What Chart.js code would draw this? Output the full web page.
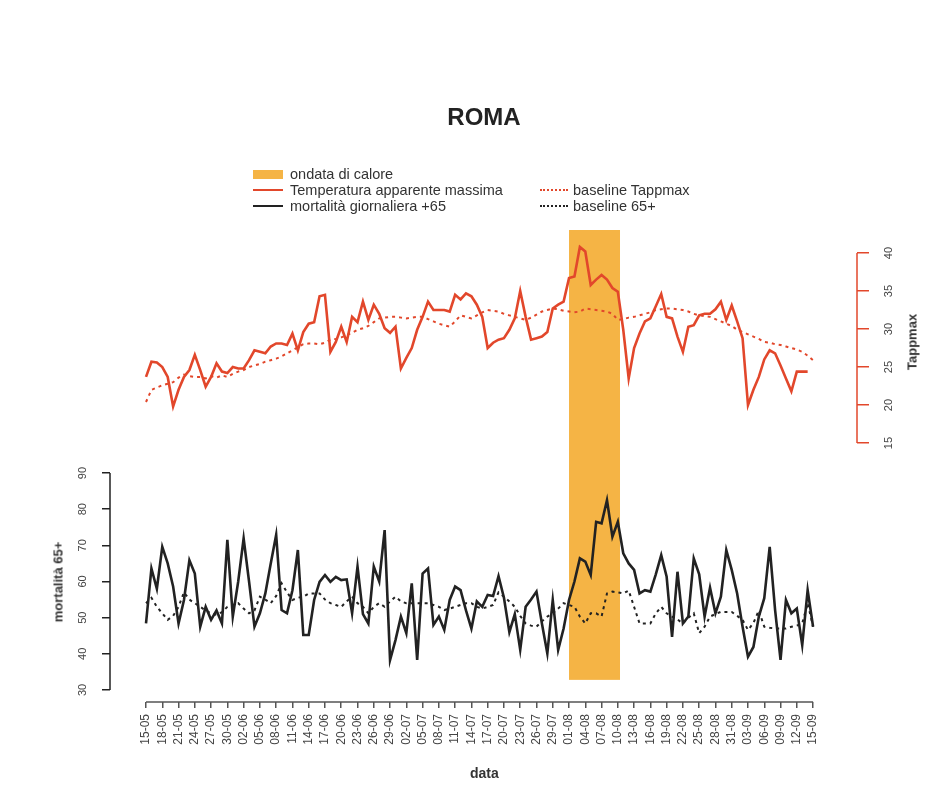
<!DOCTYPE html>
<html>
<head>
<meta charset="utf-8">
<script src="https://cdn.jsdelivr.net/npm/chart.js@4.4.0/dist/chart.umd.min.js"></script>
<style>
  html, body { margin:0; padding:0; background:#fff; }
  #wrap { position:relative; width:927px; height:803px; font-family:"Liberation Sans", Arial, sans-serif; }
  canvas { position:absolute; left:0; top:0; }
  .t { position:absolute; white-space:nowrap; color:#333; }
  #title { left:384px; width:200px; top:103px; text-align:center; font-weight:bold; font-size:24px; color:#222; }
  .lg { font-size:14.5px; line-height:16px; }
  .sw { position:absolute; }
  .rot { position:absolute; transform-origin:center center; transform:translate(-50%,-50%) rotate(-90deg); font-weight:bold; font-size:13px; color:#333; white-space:nowrap; }
</style>
</head>
<body>
<div id="wrap">
  <canvas id="c" width="927" height="803"></canvas>
  <div id="title" class="t">ROMA</div>

  <div class="sw" style="left:253px; top:170px; width:30px; height:9px; background:#f5b445;"></div>
  <div class="t lg" style="left:290px; top:166px;">ondata di calore</div>

  <div class="sw" style="left:253px; top:189px; width:30px; height:0; border-top:2.5px solid #e2472b;"></div>
  <div class="t lg" style="left:290px; top:182px;">Temperatura apparente massima</div>
  <div class="sw" style="left:540px; top:189px; width:28px; height:0; border-top:2.5px dotted #e2472b;"></div>
  <div class="t lg" style="left:573px; top:182px;">baseline Tappmax</div>

  <div class="sw" style="left:253px; top:205px; width:30px; height:0; border-top:2.5px solid #222;"></div>
  <div class="t lg" style="left:290px; top:198px;">mortalità giornaliera +65</div>
  <div class="sw" style="left:540px; top:205px; width:28px; height:0; border-top:2.5px dotted #222;"></div>
  <div class="t lg" style="left:573px; top:198px;">baseline 65+</div>

  <div class="rot" style="left:58px; top:582px;">mortalità 65+</div>
  <div class="rot" style="left:912px; top:342px;">Tappmax</div>
  <div class="t" style="left:470px; top:765px; font-weight:bold; font-size:14px;">data</div>
</div>
<script>
// ---- data (daily, 15 May .. 15 Sep) ----
const dateTicks = ["15-05","18-05","21-05","24-05","27-05","30-05","02-06","05-06","08-06","11-06","14-06","17-06","20-06","23-06","26-06","29-06","02-07","05-07","08-07","11-07","14-07","17-07","20-07","23-07","26-07","29-07","01-08","04-08","07-08","10-08","13-08","16-08","19-08","22-08","25-08","28-08","31-08","03-09","06-09","09-09","12-09","15-09"];
const tappmax = [23.7,25.7,25.6,25.0,23.7,19.8,22.0,23.7,24.6,26.6,24.6,22.4,23.7,25.5,24.4,24.2,25.0,24.8,24.8,25.9,
  27.2,27.0,26.8,27.7,28.1,28.1,27.9,29.4,27.2,29.6,30.7,30.9,34.3,34.5,27.0,28.3,30.3,28.3,31.6,30.9,
  33.6,31.2,33.2,32.0,30.1,29.5,30.3,24.8,26.2,27.5,29.9,31.6,33.6,32.5,32.5,32.5,32.3,34.5,33.9,34.7,
  34.3,33.2,31.6,27.5,28.2,28.6,28.8,29.9,31.4,35.0,31.6,28.6,28.8,29.0,29.6,32.7,33.2,33.6,36.7,36.9,
  40.8,40.2,35.8,36.5,37.1,36.5,35.4,34.9,29.9,23.5,27.5,29.4,31.0,31.4,33.0,34.6,31.6,31.4,29.0,27.0,
  30.3,30.5,31.8,32.0,32.0,32.6,33.6,31.2,33.1,31.0,28.8,20.0,22.0,23.7,26.0,27.2,26.8,25.2,23.5,21.8,
  24.4,24.4,24.4,null];
const tappmaxBase = [20.4,22.0,22.3,22.6,22.8,23.0,23.6,24.0,23.8,23.7,23.7,23.5,23.8,23.6,23.9,23.7,24.1,24.4,24.6,25.0,
  25.2,25.4,25.7,25.9,26.1,26.4,26.8,27.2,27.6,28.0,28.1,28.1,28.0,28.2,28.6,28.7,28.9,29.2,29.5,29.9,
  30.1,30.4,30.9,31.4,31.5,31.6,31.6,31.5,31.4,31.5,31.6,31.6,31.3,31.0,30.7,30.5,30.3,31.0,31.8,31.6,
  31.4,31.8,32.2,32.5,32.4,32.3,32.0,31.8,31.6,31.4,31.2,31.5,31.9,32.3,32.5,32.7,32.6,32.4,32.3,32.2,
  32.3,32.7,32.6,32.5,32.4,32.3,32.0,31.2,31.3,31.5,31.6,31.8,32.0,32.2,32.5,32.6,32.7,32.7,32.6,32.5,
  32.3,32.0,31.8,31.7,31.6,31.3,31.0,30.7,30.4,29.9,29.6,29.3,29.0,28.7,28.3,28.2,28.0,27.9,27.7,27.5,
  27.3,27.0,26.5,25.9];
const mortality = [48.4,63.6,58.0,69.6,65.0,58.6,48.4,54.9,65.9,62.2,47.5,53.0,49.4,52.0,48.4,71.5,50.3,60.0,71.9,60.0,
  47.5,51.2,56.7,65.0,72.9,52.1,51.2,57.6,68.7,45.2,45.2,54.9,59.9,61.8,59.9,61.3,60.4,60.6,51.2,64.1,
  51.0,48.4,64.1,60.0,74.2,38.3,43.8,50.3,45.7,59.5,38.3,62.2,63.6,48.0,50.3,46.6,54.9,58.6,57.6,52.0,
  47.0,54.5,53.0,56.3,56.0,61.5,55.5,46.0,51.0,41.1,53.0,55.0,57.2,48.4,40.1,54.9,41.1,47.0,54.9,60.0,
  66.4,65.5,61.8,76.5,76.1,82.5,72.4,76.5,67.8,65.0,63.2,56.7,57.6,57.2,62.0,67.3,61.3,44.7,62.7,48.4,
  50.3,66.4,62.0,50.3,58.3,51.2,55.8,68.7,63.2,56.7,47.5,39.2,41.9,50.3,55.4,69.6,52.1,38.3,54.9,51.2,
  52.5,42.4,57.6,47.5];
const mortalityBase = [54.0,55.5,53.0,51.2,49.4,50.5,53.0,57.0,55.0,54.0,53.0,52.0,51.2,50.8,51.5,53.0,53.5,54.0,52.5,51.2,
  52.0,55.8,55.0,54.0,56.0,59.5,57.0,54.9,55.5,55.8,56.7,56.7,56.7,55.0,54.0,53.5,53.0,54.5,55.8,54.0,
  53.0,51.2,53.0,54.0,53.0,54.5,55.8,54.5,54.0,54.0,54.0,54.0,54.0,53.5,53.0,52.1,52.5,53.0,53.5,54.0,
  54.0,53.0,52.5,53.0,53.5,57.0,55.8,54.5,53.0,50.5,48.4,47.8,47.5,49.0,50.3,51.2,52.5,54.0,53.5,53.0,
  50.3,48.4,51.2,51.2,50.3,56.7,57.2,57.0,56.7,57.5,53.0,48.4,48.4,48.4,51.2,53.0,51.2,50.3,49.5,48.4,
  50.0,51.2,45.7,47.5,50.3,51.0,51.6,51.6,51.6,50.5,49.4,46.6,48.5,52.0,47.5,47.2,47.0,47.0,47.0,47.5,
  47.8,48.4,54.0,47.5];
const heatWave = [78, 87.4];          // start / end day index of "ondata di calore"
const heatWaveBottom = 32.8;         // lower edge of the band, mortality units
const mortTicks = [30,40,50,60,70,80,90];
const tempTicks = [15,20,25,30,35,40];

const RED = '#e2472b', BLACK = '#222', ORANGE = '#f5b445', GREY = '#444';
const pts = arr => arr.map((v,i) => ({x:i, y:v}));

const customDraw = {
  id:'customDraw',
  beforeDatasetsDraw(chart){
    const {ctx, chartArea, scales} = chart;
    const x0 = scales.x.getPixelForValue(heatWave[0]);
    const x1 = scales.x.getPixelForValue(heatWave[1]);
    const yb = scales.yM.getPixelForValue(heatWaveBottom);
    ctx.save();
    ctx.fillStyle = ORANGE;
    ctx.fillRect(x0, chartArea.top, x1 - x0, yb - chartArea.top);
    ctx.restore();
  },
  afterDraw(chart){
    const {ctx, chartArea, scales} = chart;
    ctx.save();
    ctx.strokeStyle = '#555'; ctx.lineWidth = 1.5;
    ctx.beginPath();
    ctx.moveTo(scales.x.getPixelForValue(0), chartArea.bottom);
    ctx.lineTo(scales.x.getPixelForValue(123), chartArea.bottom);
    ctx.stroke();
    ctx.strokeStyle = BLACK; ctx.lineWidth = 1.5;
    ctx.beginPath();
    ctx.moveTo(chartArea.left, scales.yM.getPixelForValue(mortTicks[0]));
    ctx.lineTo(chartArea.left, scales.yM.getPixelForValue(mortTicks[mortTicks.length-1]));
    ctx.stroke();
    ctx.strokeStyle = RED; ctx.lineWidth = 1.5;
    ctx.beginPath();
    ctx.moveTo(chartArea.right, scales.yT.getPixelForValue(tempTicks[0]));
    ctx.lineTo(chartArea.right, scales.yT.getPixelForValue(tempTicks[tempTicks.length-1]));
    ctx.stroke();
    ctx.fillStyle = GREY;
    ctx.font = '11px "Liberation Sans", Arial, sans-serif';
    ctx.textAlign = 'center'; ctx.textBaseline = 'middle';
    mortTicks.forEach(v => {
      const y = scales.yM.getPixelForValue(v);
      ctx.save(); ctx.translate(83, y); ctx.rotate(-Math.PI/2); ctx.fillText(String(v), 0, 0); ctx.restore();
    });
    tempTicks.forEach(v => {
      const y = scales.yT.getPixelForValue(v);
      ctx.save(); ctx.translate(889, y); ctx.rotate(-Math.PI/2); ctx.fillText(String(v), 0, 0); ctx.restore();
    });
    ctx.restore();
  }
};

new Chart(document.getElementById('c'), {
  type:'line',
  data:{ datasets:[
    {label:'Temperatura apparente massima', data:pts(tappmax), yAxisID:'yT', borderColor:RED, borderWidth:2.6, pointRadius:0, tension:0, spanGaps:false},
    {label:'baseline Tappmax', data:pts(tappmaxBase), yAxisID:'yT', borderColor:RED, borderWidth:2, borderDash:[3,4], pointRadius:0, tension:0},
    {label:'mortalità giornaliera +65', data:pts(mortality), yAxisID:'yM', borderColor:BLACK, borderWidth:2.6, pointRadius:0, tension:0},
    {label:'baseline 65+', data:pts(mortalityBase), yAxisID:'yM', borderColor:BLACK, borderWidth:2, borderDash:[3,4], pointRadius:0, tension:0}
  ]},
  options:{
    responsive:false, animation:false, devicePixelRatio:1,
    layout:{padding:{top:230, left:0, right:0, bottom:0}},
    plugins:{legend:{display:false}, title:{display:false}, tooltip:{enabled:false}},
    scales:{
      x:{type:'linear', min:-6.64, max:131.1,
        afterBuildTicks: s => { s.ticks = dateTicks.map((_,i) => ({value:i*3})); },
        ticks:{autoSkip:false, maxRotation:90, minRotation:90, padding:6, color:GREY,
          font:{size:12, family:'"Liberation Sans", Arial, sans-serif'},
          callback:(v) => dateTicks[Math.round(v/3)]},
        grid:{drawOnChartArea:false, drawTicks:true, tickLength:6, color:'#555', lineWidth:1.5},
        border:{display:false},
        afterFit: s => { s.height = 101; }
      },
      yM:{type:'linear', position:'left', min:26.68, max:157.2,
        afterBuildTicks: s => { s.ticks = mortTicks.map(v => ({value:v})); },
        ticks:{display:false},
        grid:{drawOnChartArea:false, drawTicks:true, tickLength:8, color:BLACK, lineWidth:1.5},
        border:{display:false},
        afterFit: s => { s.width = 110; }
      },
      yT:{type:'linear', position:'right', min:-19.08, max:43.03,
        afterBuildTicks: s => { s.ticks = tempTicks.map(v => ({value:v})); },
        ticks:{display:false},
        grid:{drawOnChartArea:false, drawTicks:true, tickLength:12, color:RED, lineWidth:1.5},
        border:{display:false},
        afterFit: s => { s.width = 70; }
      }
    }
  },
  plugins:[customDraw]
});
</script>
</body>
</html>
